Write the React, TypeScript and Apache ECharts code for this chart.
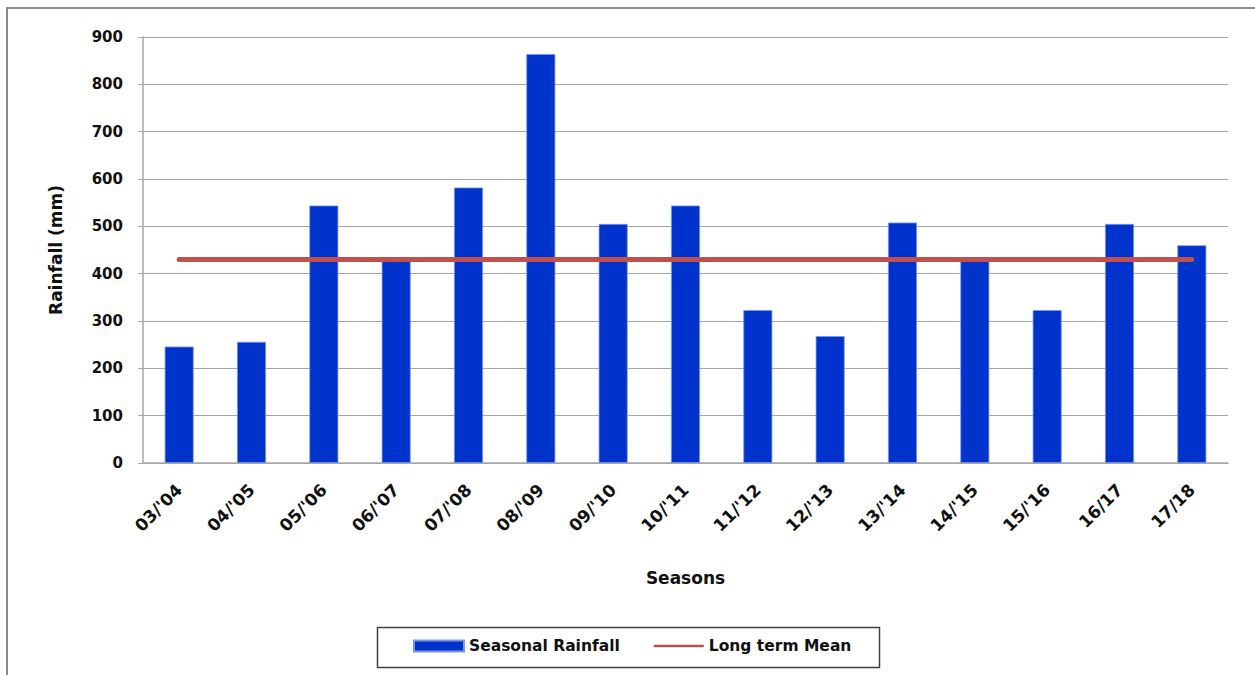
import React, { useEffect, useRef } from "react";
import * as echarts from "echarts";

// Seasons on the category axis
const seasons = [
  "03/'04", "04/'05", "05/'06", "06/'07", "07/'08", "08/'09", "09/'10", "10/'11",
  "11/'12", "12/'13", "13/'14", "14/'15", "15/'16", "16/17", "17/18",
];

// Seasonal rainfall totals (mm)
const seasonalRainfall = [246, 256, 544, 428, 582, 864, 505, 544, 323, 268, 508, 428, 323, 505, 460];

// Long term mean rainfall (mm)
const longTermMean = 430;

// Rainfall axis
const yMin = 0;
const yMax = 900;
const yStep = 100;

const FONT = "DejaVu Sans";

export default function App() {
  const ref = useRef<HTMLDivElement>(null);

  useEffect(() => {
    if (!ref.current) return;
    const chart = echarts.init(ref.current, null, { renderer: "svg" });
    const meanValues = seasons.map(() => longTermMean);

    chart.setOption({
      animation: false,
      backgroundColor: "#ffffff",
      grid: { left: 143, right: 27, top: 37, bottom: 212 },
      graphic: [
        {
          type: "rect",
          shape: { x: 7, y: 8, width: 1300, height: 720 },
          style: { fill: "none", stroke: "#8c8c8c", lineWidth: 2 },
          silent: true,
        },
        {
          type: "rect",
          shape: { x: 377.5, y: 627.5, width: 502, height: 40 },
          style: { fill: "#ffffff", stroke: "#404040", lineWidth: 1.5 },
          silent: true,
          z: -1,
        },
      ],
      legend: {
        left: 413,
        top: 638,
        padding: 0,
        itemWidth: 50,
        itemHeight: 11,
        itemGap: 34,
        textStyle: { fontFamily: FONT, fontWeight: "bold", fontSize: 15.5, color: "#111" },
        data: [
          { name: "Seasonal Rainfall", icon: "rect" },
          {
            name: "Long term Mean",
            icon: "path://M0,0h50v2.5h-50z",
            itemStyle: { color: "#c0504d" },
          },
        ],
      },
      xAxis: {
        type: "category",
        data: seasons,
        name: "Seasons",
        nameLocation: "middle",
        nameGap: 106,
        nameTextStyle: { fontFamily: FONT, fontWeight: "bold", fontSize: 17, color: "#111" },
        axisLine: { lineStyle: { color: "#a6a6a6", width: 1.5 } },
        axisTick: { show: false },
        axisLabel: {
          rotate: 45,
          margin: 24,
          interval: 0,
          fontFamily: FONT,
          fontWeight: "bold",
          fontSize: 17,
          color: "#111",
        },
      },
      yAxis: {
        type: "value",
        min: yMin,
        max: yMax,
        interval: yStep,
        name: "Rainfall (mm)",
        nameLocation: "middle",
        nameGap: 79,
        nameTextStyle: { fontFamily: FONT, fontWeight: "bold", fontSize: 17, color: "#111" },
        axisLine: { show: true, lineStyle: { color: "#a6a6a6", width: 1.5 } },
        axisTick: { show: true, length: 5, lineStyle: { color: "#a6a6a6" } },
        axisLabel: { margin: 20, fontFamily: FONT, fontWeight: "bold", fontSize: 15, color: "#111" },
        splitLine: { lineStyle: { color: "#a6a6a6", width: 1.2 } },
      },
      series: [
        {
          name: "Seasonal Rainfall",
          type: "bar",
          data: seasonalRainfall,
          barWidth: 29,
          itemStyle: { color: "#0033cc", borderColor: "#7a96e4", borderWidth: 0.8 },
        },
        {
          name: "Long term Mean",
          type: "line",
          data: meanValues,
          symbol: "none",
          showSymbol: false,
          itemStyle: { color: "#c0504d" },
          lineStyle: { color: "#c0504d", width: 5, cap: "round" },
          z: 3,
        },
      ],
    });

    return () => chart.dispose();
  }, []);

  return (
    <div
      ref={ref}
      style={{ position: "absolute", left: 0, top: 0, width: 1255, height: 675 }}
    />
  );
}
